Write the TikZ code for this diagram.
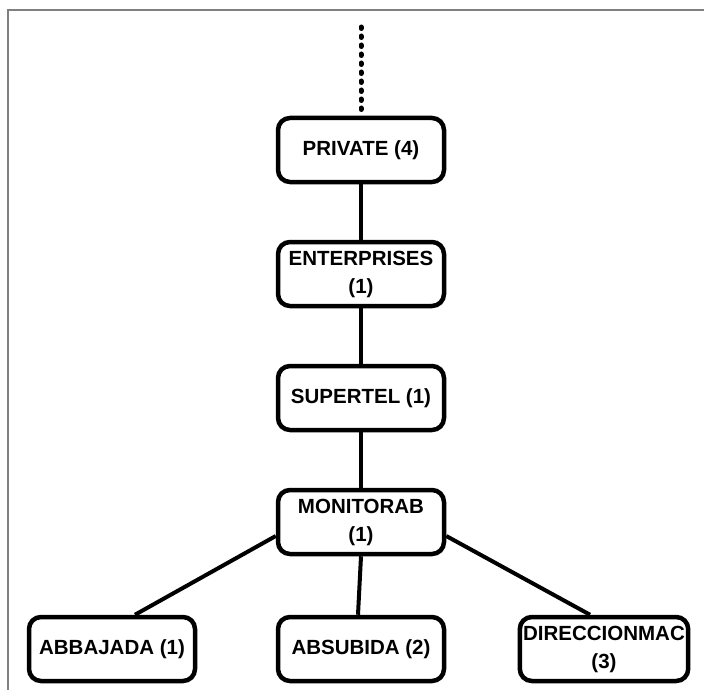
\documentclass[tikz,border=0pt]{standalone}
\usepackage{fontspec}
\setmainfont{Liberation Sans}
\usetikzlibrary{positioning}

\begin{document}
\begin{tikzpicture}[x=1pt, y=-1pt, node distance=124pt, on grid,
        cat/.style={draw, line width=4.5pt, rounded corners=12pt, fill=white,
                    minimum width=166pt, minimum height=64pt, align=center,
                    font=\fontsize{20.5}{28}\selectfont\bfseries},
        link/.style={line width=4pt}]
        \useasboundingbox (0,0) rectangle (704,690);
        \draw[gray, line width=2pt] (704,10) -- (8,10) -- (8,690);

        \node[cat] (private) at (361,150) {PRIVATE (4)};
        \node[cat] (enterprises) [below=of private] {ENTERPRISES\\(1)};
        \node[cat] (supertel) [below=of enterprises] {SUPERTEL (1)};
        \node[cat] (monitorab) [below=of supertel] {MONITORAB\\(1)};
        \node[cat] (abbajada) [below left=127pt and 249pt of monitorab] {ABBAJADA (1)};
        \node[cat] (absubida) [below=127pt of monitorab] {ABSUBIDA (2)};
        \node[cat] (direccionmac) [below right=127pt and 243pt of monitorab] {DIRECCIONMAC\\(3)};
        \coordinate[above=123pt of private] (up);

        % parent branch continues above
        \draw[link, line width=5pt, line cap=round, dash pattern=on 1.5pt off 7.5pt] (up) -- (private);

        \draw[link] (private) -- (enterprises);
        \draw[link] (enterprises) -- (supertel);
        \draw[link] (supertel) -- (monitorab);
        \draw[link] ([yshift=-14pt]monitorab.west) -- ([xshift=23pt]abbajada.north);
        \draw[link] (monitorab.south) -- ([xshift=-3pt]absubida.north);
        \draw[link] ([yshift=-14pt]monitorab.east) -- ([xshift=-14pt]direccionmac.north);
\end{tikzpicture}
\end{document}
